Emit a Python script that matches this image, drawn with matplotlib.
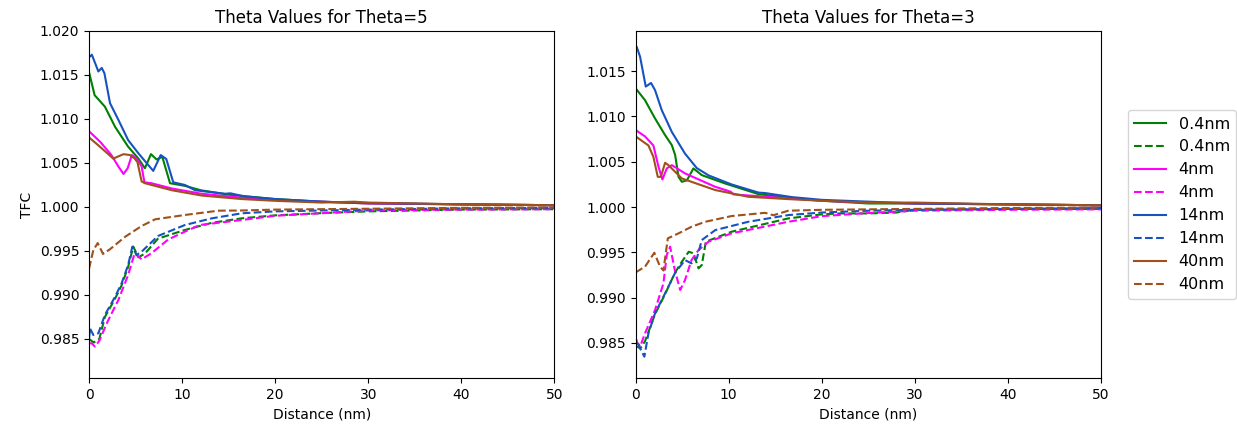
import numpy as np
import matplotlib
matplotlib.use("Agg")
import matplotlib.pyplot as plt

# ---- Theta = 5 (left panel) ----
t5_g_x = [0, 0.6, 1.7, 2.8, 4.2, 5.3, 6.0, 6.65, 7.26, 7.87, 8.7, 10.3, 12, 15, 20, 25, 30, 40, 50]
t5_g_y = [1.0153, 1.0127, 1.0114, 1.0091, 1.00685, 1.0055, 1.0044, 1.0060, 1.0054, 1.0057, 1.0027,
          1.0024, 1.0019, 1.0014, 1.0009, 1.0006, 1.0004, 1.0003, 1.0002]
t5_b_x = [0, 0.3, 1.0, 1.36, 1.65, 2.25, 3.15, 4.2, 5.3, 6.9, 7.7, 8.3, 9.05, 10.3, 11.4, 13, 14.6,
          15.2, 16.7, 20, 25, 30, 40, 50]
t5_b_y = [1.0170, 1.0173, 1.0154, 1.0158, 1.0152, 1.0118, 1.0099, 1.0076, 1.0061, 1.0041, 1.0059,
          1.00545, 1.0028, 1.0025, 1.0019, 1.0017, 1.0015, 1.00155, 1.0012, 1.0009, 1.0006, 1.00045,
          1.0003, 1.0002]
t5_m_x = [0, 1.2, 2.4, 3.15, 3.7, 4.15, 4.6, 5.1, 5.65, 5.95, 6.7, 8.9, 12.1, 16, 20, 25, 30, 40, 50]
t5_m_y = [1.0086, 1.0074, 1.0059, 1.0046, 1.00375, 1.0044, 1.0059, 1.0055, 1.0046, 1.0028, 1.0027,
          1.0021, 1.0015, 1.0011, 1.0008, 1.0006, 1.0004, 1.0003, 1.0002]
t5_br_x = [0, 1.0, 2.6, 3.7, 4.4, 4.9, 5.2, 5.65, 6.0, 8.9, 12.1, 16.4, 20, 25, 28.5, 30, 35, 40, 50]
t5_br_y = [1.0079, 1.0070, 1.0055, 1.0060, 1.0059, 1.0055, 1.0051, 1.0029, 1.0027, 1.0019, 1.0013,
           1.0009, 1.0007, 1.0005, 1.0006, 1.0005, 1.0004, 1.0003, 1.0002]

t5_gd_x = [0, 0.5, 1.1, 1.7, 2.8, 3.5, 4.2, 4.75, 5.3, 6.0, 7.4, 10.3, 13.2, 16.4, 20, 25, 30, 40, 50]
t5_gd_y = [0.9850, 0.9846, 0.9850, 0.9875, 0.9896, 0.9911, 0.9932, 0.9955, 0.99428, 0.9947, 0.9964,
           0.99739, 0.9982, 0.99871, 0.99905, 0.9993, 0.9995, 0.9997, 0.99975]
t5_bd_x = [0, 0.1, 0.46, 1.0, 1.7, 2.8, 3.5, 4.2, 4.65, 5.1, 5.65, 7.4, 10.3, 13.2, 16.4, 20, 25,
           30, 40, 50]
t5_bd_y = [0.9850, 0.9862, 0.98545, 0.98565, 0.98773, 0.98981, 0.99133, 0.99341, 0.99549, 0.99455,
           0.99492, 0.9967, 0.99795, 0.99871, 0.99928, 0.9995, 0.9996, 0.9997, 0.99985, 0.9999]
t5_md_x = [0, 0.28, 0.64, 1.1, 2.0, 3.15, 4.2, 4.9, 5.65, 6.7, 8.5, 10.3, 11.9, 16.4, 20, 24.8, 30,
           33.4, 40, 50]
t5_md_y = [0.9845, 0.98451, 0.98413, 0.9848, 0.9870, 0.98943, 0.99227, 0.99474, 0.99405, 0.99474,
           0.9963, 0.9972, 0.99795, 0.99852, 0.9990, 0.99928, 0.9996, 0.99965, 0.9997, 0.99975]
t5_brd_x = [0, 0.46, 0.93, 1.5, 2.25, 3.9, 5.65, 7.1, 10.3, 13.9, 16.4, 20, 25, 30, 40, 50]
t5_brd_y = [0.9930, 0.9951, 0.9959, 0.99466, 0.9952, 0.99663, 0.99784, 0.9986, 0.99909, 0.99958,
            0.9996, 0.9997, 0.99975, 0.9998, 0.9999, 0.99995]

# ---- Theta = 3 (right panel) ----
t3_g_x = [0, 1.0, 2.08, 3.16, 3.88, 4.24, 4.6, 4.96, 5.5, 6.2, 7.1, 9.6, 13.2, 16.8, 20, 25, 30, 40, 50]
t3_g_y = [1.0131, 1.0118, 1.00978, 1.00794, 1.00684, 1.00574, 1.00334, 1.00279, 1.00295, 1.00427,
          1.00353, 1.00261, 1.00143, 1.0010, 1.0007, 1.0004, 1.0004, 1.0003, 1.0002]
t3_b_x = [0, 0.1, 0.47, 1.08, 1.65, 2.08, 2.8, 3.88, 5.3, 6.57, 7.83, 10.3, 13.2, 13.9, 16.8, 20,
          25, 30, 40, 50]
t3_b_y = [1.0173, 1.0177, 1.0166, 1.0133, 1.0137, 1.0129, 1.0107, 1.0083, 1.0059, 1.0043, 1.0035,
          1.0025, 1.0016, 1.00155, 1.0011, 1.0008, 1.0006, 1.0004, 1.0003, 1.0002]
t3_m_x = [0, 1.0, 1.9, 2.45, 2.87, 3.34, 3.88, 5.3, 8.55, 10.2, 10.5, 16, 20, 25, 30, 40, 50]
t3_m_y = [1.0085, 1.0078, 1.0068, 1.00445, 1.00305, 1.00427, 1.00463, 1.00372, 1.00224, 1.0017,
          1.0014, 1.0010, 1.0007, 1.0005, 1.0004, 1.0003, 1.0002]
t3_br_x = [0, 1.37, 1.9, 2.37, 2.7, 3.16, 3.52, 4.96, 8.55, 12.1, 16.4, 20, 25, 28, 30, 40, 50]
t3_br_y = [1.0078, 1.0068, 1.00555, 1.00334, 1.00334, 1.00489, 1.00463, 1.00316, 1.00188, 1.00114,
           1.00088, 1.0007, 1.0005, 1.0005, 1.0005, 1.0003, 1.0002]

t3_gd_x = [0, 0.5, 1.0, 2.08, 3.16, 4.24, 4.96, 5.7, 6.2, 6.75, 7.1, 7.54, 10.3, 16.4, 20, 22, 25,
           28, 30, 40, 50]
t3_gd_y = [0.9847, 0.9844, 0.9852, 0.9882, 0.9904, 0.9928, 0.99397, 0.99507, 0.9949, 0.99324, 0.9936,
           0.99618, 0.99728, 0.99875, 0.9992, 0.9993, 0.9993, 0.9994, 0.9997, 0.9998, 0.9998]
t3_bd_x = [0, 0.1, 0.47, 0.93, 1.37, 2.08, 3.16, 4.24, 5.3, 6.0, 6.57, 7.1, 8.55, 12.1, 16.4, 20,
           25, 30, 40, 50]
t3_bd_y = [0.9845, 0.98533, 0.98442, 0.98349, 0.98607, 0.98828, 0.99048, 0.99275, 0.99415, 0.99379,
           0.99434, 0.99636, 0.99746, 0.99838, 0.99912, 0.9994, 0.9996, 0.9997, 0.9998, 0.9999]
t3_md_x = [0, 0.47, 1.0, 2.08, 2.98, 3.34, 3.7, 4.2, 4.78, 5.3, 6.0, 6.75, 7.83, 10.3, 14.65, 16.4,
           20, 25, 30, 40, 50]
t3_md_y = [0.9853, 0.98459, 0.98607, 0.98864, 0.99158, 0.99471, 0.99563, 0.99305, 0.99085, 0.99195,
           0.99415, 0.99526, 0.99618, 0.9971, 0.99801, 0.99838, 0.9990, 0.99935, 0.9996, 0.9997, 0.99975]
t3_brd_x = [0, 1.0, 2.0, 2.62, 2.98, 3.45, 4.6, 6.0, 7.47, 10.3, 13.9, 14.8, 16.4, 20, 25, 30, 40, 50]
t3_brd_y = [0.9928, 0.99342, 0.99496, 0.99342, 0.9930, 0.99655, 0.9971, 0.99783, 0.99838, 0.99901,
            0.99937, 0.9991, 0.9996, 0.9997, 0.99975, 0.9998, 0.9999, 0.99995]

sizes = ['0.4nm', '4nm', '14nm', '40nm']
colors = ['green', '#ff00ff', '#1652c0', '#a0501a']

panels = [
    ('Theta Values for Theta=5', (0.98057, 1.020),
     [(t5_g_x, t5_g_y), (t5_m_x, t5_m_y), (t5_b_x, t5_b_y), (t5_br_x, t5_br_y)],
     [(t5_gd_x, t5_gd_y), (t5_md_x, t5_md_y), (t5_bd_x, t5_bd_y), (t5_brd_x, t5_brd_y)]),
    ('Theta Values for Theta=3', (0.98114, 1.01944),
     [(t3_g_x, t3_g_y), (t3_m_x, t3_m_y), (t3_b_x, t3_b_y), (t3_br_x, t3_br_y)],
     [(t3_gd_x, t3_gd_y), (t3_md_x, t3_md_y), (t3_bd_x, t3_bd_y), (t3_brd_x, t3_brd_y)]),
]

fig, axes = plt.subplots(1, 2, figsize=(12.37, 4.3), dpi=100)
fig.subplots_adjust(left=0.072, right=0.890, bottom=0.121, top=0.928, wspace=0.175)

for ax, (title, ylim, solid, dashed) in zip(axes, panels):
    for i in range(4):
        ax.plot(solid[i][0], solid[i][1], color=colors[i], lw=1.5, label=sizes[i])
        ax.plot(dashed[i][0], dashed[i][1], color=colors[i], lw=1.5, ls='--', label=sizes[i])
    ax.set_xlim(0, 50)
    ax.set_ylim(*ylim)
    ax.set_title(title, fontsize=12)
    ax.set_xlabel('Distance (nm)')

axes[0].set_ylabel('TFC')
axes[1].legend(loc='center left', bbox_to_anchor=(1.04, 0.5), fontsize=11.5)

fig.savefig('out.png', dpi=100)
